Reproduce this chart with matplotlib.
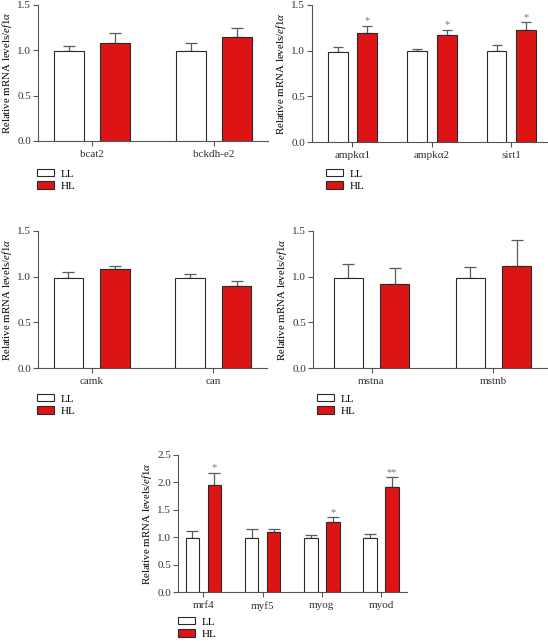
import matplotlib
matplotlib.use("Agg")
import matplotlib.pyplot as plt
import numpy as np

plt.rcParams.update({
    "font.family": ["Liberation Serif", "DejaVu Serif"],
    "font.size": 8,
    "mathtext.fontset": "custom",
    "mathtext.rm": "Liberation Serif",
    "mathtext.it": "Liberation Serif:italic",
    "axes.linewidth": 0.8,
    "axes.edgecolor": "#555555",
    "xtick.color": "#555555",
    "ytick.color": "#555555",
    "xtick.labelcolor": "#333333",
    "ytick.labelcolor": "#333333",
})

RED = "#dc1414"
EDGE = "#2a2a2a"
ERR = "#5a5a5a"
YLABEL = r"Relative mRNA levels/$\mathit{ef1}\alpha$"

# panel A
genes_a = ["bcat2", "bckdh-e2"]
ll_a = [0.99, 0.99]
ll_a_err = [0.06, 0.09]
hl_a = [1.08, 1.15]
hl_a_err = [0.11, 0.10]
sig_a = ["", ""]

# panel B
genes_b = ["ampk\u03b11", "ampk\u03b12", "sirt1"]
ll_b = [0.99, 1.0, 1.0]
ll_b_err = [0.05, 0.02, 0.06]
hl_b = [1.19, 1.17, 1.23]
hl_b_err = [0.08, 0.06, 0.08]
sig_b = ["*", "*", "*"]

# panel C
genes_c = ["camk", "can"]
ll_c = [0.99, 0.99]
ll_c_err = [0.06, 0.04]
hl_c = [1.08, 0.90]
hl_c_err = [0.04, 0.05]
sig_c = ["", ""]

# panel D
genes_d = ["mstna", "mstnb"]
ll_d = [0.99, 0.99]
ll_d_err = [0.15, 0.12]
hl_d = [0.915, 1.12]
hl_d_err = [0.175, 0.28]
sig_d = ["", ""]

# panel E
genes_e = ["mrf4", "myf5", "myog", "myod"]
ll_e = [0.99, 0.99, 0.99, 0.99]
ll_e_err = [0.13, 0.16, 0.05, 0.06]
hl_e = [1.945, 1.09, 1.28, 1.92]
hl_e_err = [0.235, 0.06, 0.08, 0.17]
sig_e = ["*", "", "*", "**"]

W, H = 548, 642
fig = plt.figure(figsize=(W / 100, H / 100), dpi=100)
fig.patch.set_facecolor("white")


def px_axes(x0, x1, ytop, ybot):
    return fig.add_axes([x0 / W, (H - ybot) / H, (x1 - x0) / W, (ybot - ytop) / H])


def panel(ax, genes, ll, ll_err, hl, hl_err, sig, ymax, ystep, xlim,
          width, off, cap, leg_xy):
    x = np.arange(len(genes))
    b1 = ax.bar(x - off, ll, width, color="white", edgecolor=EDGE, lw=0.8,
                zorder=3, label="LL")
    b2 = ax.bar(x + off, hl, width, color=RED, edgecolor=EDGE, lw=0.8,
                zorder=3, label="HL")
    zeros = np.zeros(len(genes))
    ax.errorbar(x - off, ll, yerr=[zeros, ll_err], fmt="none", ecolor=ERR,
                elinewidth=0.9, capsize=cap, capthick=0.9, zorder=2)
    ax.errorbar(x + off, hl, yerr=[zeros, hl_err], fmt="none", ecolor=ERR,
                elinewidth=0.9, capsize=cap, capthick=0.9, zorder=2)
    for xi, v, e, s in zip(x + off, hl, hl_err, sig):
        if s:
            ax.annotate(s, (xi, v + e), xytext=(0, 0.3), textcoords="offset points",
                        ha="center", va="bottom", fontsize=7.5, color="#777777")
    ax.set_ylim(0, ymax)
    ax.set_xlim(*xlim)
    ax.set_yticks(np.arange(0, ymax + 1e-9, ystep))
    ax.yaxis.set_major_formatter(matplotlib.ticker.FormatStrFormatter("%.1f"))
    ax.set_xticks(x)
    ax.set_xticklabels(genes)
    ax.tick_params(axis="both", direction="out", length=3.5, width=0.8, pad=1.5,
                   labelsize=8)
    ax.tick_params(axis="x", pad=3)
    for s in ("top", "right"):
        ax.spines[s].set_visible(False)
    ax.set_ylabel(YLABEL, labelpad=2, fontsize=7.8)
    ax.legend(handles=[b1, b2], loc="upper left",
              bbox_to_anchor=(leg_xy[0] / W, 1 - leg_xy[1] / H),
              bbox_transform=fig.transFigure, frameon=False,
              handlelength=1.55, handleheight=0.65, handletextpad=0.6,
              labelspacing=0.25, borderpad=0, borderaxespad=0, fontsize=8)


ax1 = px_axes(38, 268, 5, 141)
panel(ax1, genes_a, ll_a, ll_a_err, hl_a, hl_a_err, sig_a, 1.5, 0.5,
      (-0.44, 1.44), 0.245, 0.19, 4.5, (37, 169))

ax2 = px_axes(312, 547, 5, 142)
panel(ax2, genes_b, ll_b, ll_b_err, hl_b, hl_b_err, sig_b, 1.5, 0.5,
      (-0.51, 2.45), 0.25, 0.186, 3.6, (326, 169))

ax3 = px_axes(38, 267, 231, 368)
panel(ax3, genes_c, ll_c, ll_c_err, hl_c, hl_c_err, sig_c, 1.5, 0.5,
      (-0.44, 1.44), 0.245, 0.19, 4.5, (37, 394))

ax4 = px_axes(313, 547, 231, 368)
panel(ax4, genes_d, ll_d, ll_d_err, hl_d, hl_d_err, sig_d, 1.5, 0.5,
      (-0.48, 1.44), 0.24, 0.19, 4.5, (317, 394))

ax5 = px_axes(178, 407, 455, 592)
panel(ax5, genes_e, ll_e, ll_e_err, hl_e, hl_e_err, sig_e, 2.5, 0.5,
      (-0.43, 3.44), 0.23, 0.186, 4.0, (178, 617))

fig.savefig("out.png", dpi=100, facecolor="white")
